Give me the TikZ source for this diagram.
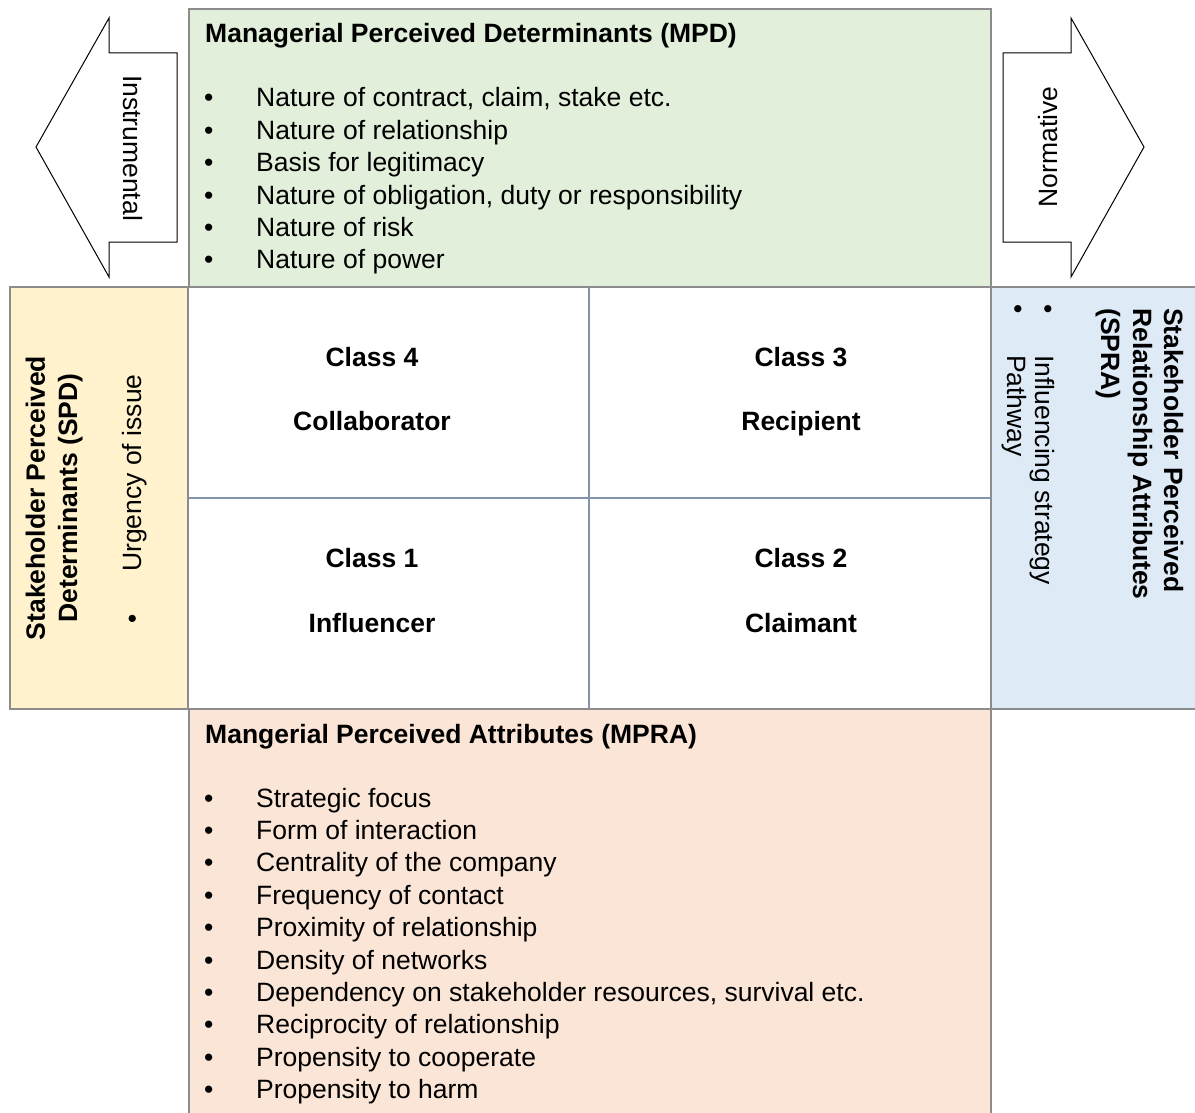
\documentclass[tikz,border=0pt]{standalone}
\usepackage{fontspec}
\setmainfont{Liberation Sans}
\definecolor{mpdgreen}{HTML}{E2EFDA}
\definecolor{spdyellow}{HTML}{FFF2CC}
\definecolor{sprablue}{HTML}{DEEAF6}
\definecolor{mprasalmon}{HTML}{FBE5D6}
\definecolor{boxgray}{HTML}{8C8C8C}
\definecolor{gridslate}{HTML}{8494AC}
\newcommand\diagfs{\fontsize{26.5}{32.4}\selectfont}
\tikzset{
  box/.style={draw=boxgray, line width=1.5pt},
  txt/.style={inner sep=0pt, font=\diagfs},
  btxt/.style={inner sep=0pt, font=\diagfs\bfseries},
  bigarrow/.style={draw=black, line width=1pt, fill=white, line join=miter},
  gridline/.style={draw=gridslate, line width=1.2pt}
}
\begin{document}
\begin{tikzpicture}[x=1pt,y=-1pt]
\useasboundingbox (0,0) rectangle (1195,1113);
\begin{scope}
\clip (0,0) rectangle (1195,1113);
% boxes
\path[box, fill=mpdgreen] (189,9) rectangle (991,287);
\path[box, fill=spdyellow] (10,287) rectangle (188,709);
\path[box, fill=sprablue] (991,287) rectangle (1205,709);
\path[box, fill=mprasalmon] (189,709) rectangle (991,1125);
% grid
\path[gridline] (589,287) -- (589,708);
\path[gridline] (189,498) -- (991,498);
\end{scope}
% arrows
\path[bigarrow] (177,53) -- (109,53) -- (109,18) -- (36,147) -- (109,277) -- (109,242) -- (177,242) -- cycle;
\path[bigarrow] (1003,53) -- (1071,53) -- (1071,18) -- (1144,147) -- (1071,277) -- (1071,242) -- (1003,242) -- cycle;
\node[txt, rotate=-90, anchor=base] (instr) at (123,148) {Instrumental};
\node[txt, rotate=90, anchor=base] (norm) at (1057,147) {Normative};
% MPD
\node[btxt, anchor=base west] (mpdhead) at (205,43) {Managerial Perceived Determinants (MPD)};
\foreach \t [count=\i from 0] in {{Nature of contract, claim, stake etc.},{Nature of relationship},{Basis for legitimacy},{Nature of obligation, duty or responsibility},{Nature of risk},{Nature of power}}{
  \node[txt, anchor=base west] (mpdb\i) at (204,{107+\i*32.4}) {•};
  \node[txt, anchor=base west] (mpd\i) at (256,{107+\i*32.4}) {\t};
}
% MPRA
\node[btxt, anchor=base west] (mprahead) at (205,743) {Mangerial Perceived Attributes (MPRA)};
\foreach \t [count=\i from 0] in {{Strategic focus},{Form of interaction},{Centrality of the company},{Frequency of contact},{Proximity of relationship},{Density of networks},{Dependency on stakeholder resources, survival etc.},{Reciprocity of relationship},{Propensity to cooperate},{Propensity to harm}}{
  \node[txt, anchor=base west] (mprab\i) at (204,{807+\i*32.4}) {•};
  \node[txt, anchor=base west] (mpra\i) at (256,{807+\i*32.4}) {\t};
}
% classes
\node[btxt, anchor=base] (c4) at (372,366) {Class 4};
\node[btxt, anchor=base] (c4n) at (372,430) {Collaborator};
\node[btxt, anchor=base] (c3) at (801,366) {Class 3};
\node[btxt, anchor=base] (c3n) at (801,430) {Recipient};
\node[btxt, anchor=base] (c1) at (372,567) {Class 1};
\node[btxt, anchor=base] (c1n) at (372,632) {Influencer};
\node[btxt, anchor=base] (c2) at (801,567) {Class 2};
\node[btxt, anchor=base] (c2n) at (801,632) {Claimant};
% SPD
\node[btxt, rotate=90, anchor=base] (spd1) at (45,498) {Stakeholder Perceived};
\node[btxt, rotate=90, anchor=base] (spd2) at (77,498) {Determinants (SPD)};
\node[txt, rotate=90, anchor=base west] (spdb) at (141,624) {•};
\node[txt, rotate=90, anchor=base west] (spdi) at (141,572) {Urgency of issue};
% SPRA
\node[btxt, rotate=-90, anchor=base west] (spra1) at (1164,308) {Stakeholder Perceived};
\node[btxt, rotate=-90, anchor=base west] (spra2) at (1133,308) {Relationship Attributes};
\node[btxt, rotate=-90, anchor=base west] (spra3) at (1101,308) {(SPRA)};
\node[txt, rotate=-90, anchor=base west] (sprab1) at (1039,304) {•};
\node[txt, rotate=-90, anchor=base west] (sprab2) at (1009,304) {•};
\node[txt, rotate=-90, anchor=base west] (sprai1) at (1035,355) {Influencing strategy};
\node[txt, rotate=-90, anchor=base west] (sprai2) at (1007,355) {Pathway};
\end{tikzpicture}
\end{document}
